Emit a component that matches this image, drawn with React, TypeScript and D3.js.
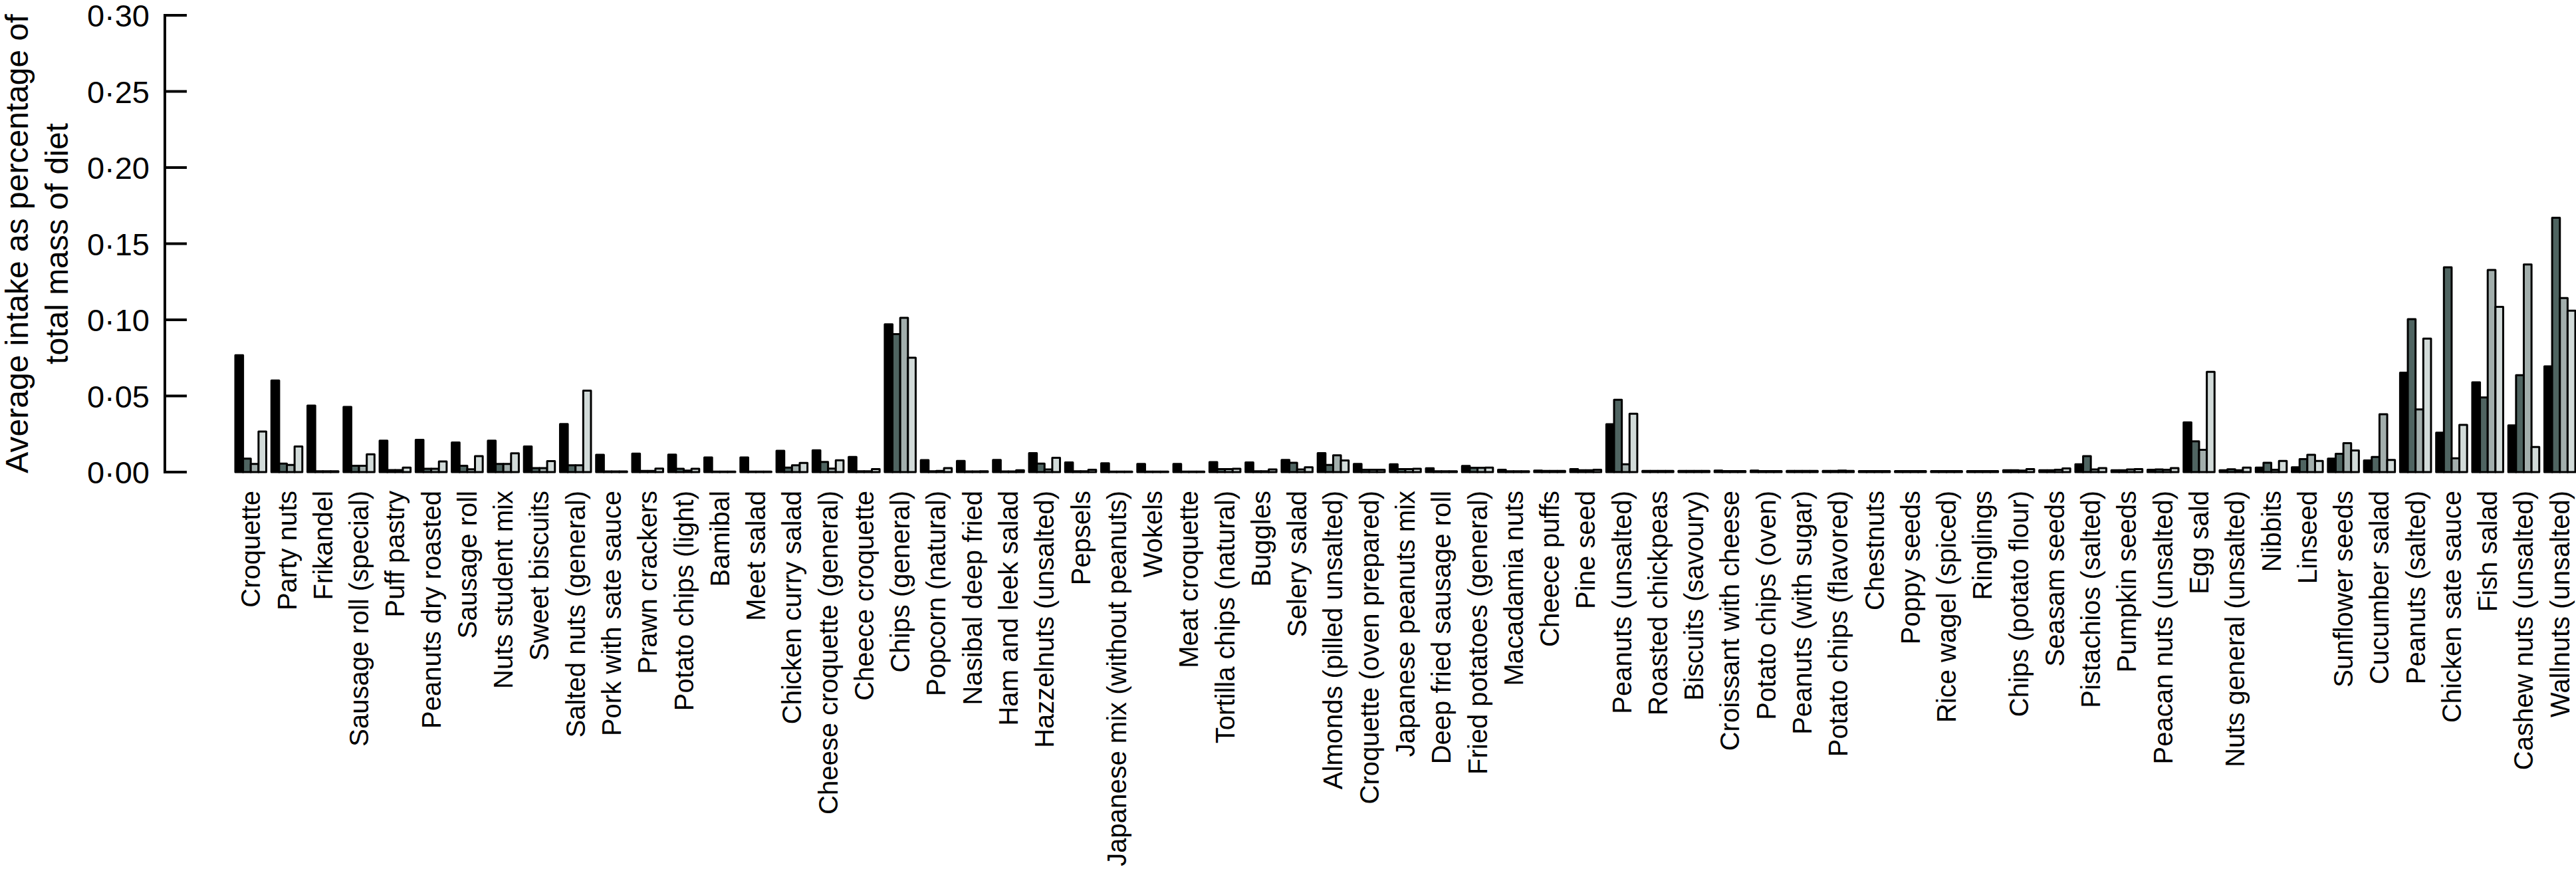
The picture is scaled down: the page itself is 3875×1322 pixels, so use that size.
import React from 'react';
import * as d3 from 'd3';

const categories = [
  'Croquette', 'Party nuts', 'Frikandel', 'Sausage roll (special)', 'Puff pastry',
  'Peanuts dry roasted', 'Sausage roll', 'Nuts student mix', 'Sweet biscuits', 'Salted nuts (general)',
  'Pork with sate sauce', 'Prawn crackers', 'Potato chips (light)', 'Bamibal', 'Meet salad',
  'Chicken curry salad', 'Cheese croquette (general)', 'Cheece croquette', 'Chips (general)', 'Popcorn (natural)',
  'Nasibal deep fried', 'Ham and leek salad', 'Hazzelnuts (unsalted)', 'Pepsels', 'Japanese mix (without peanuts)',
  'Wokels', 'Meat croquette', 'Tortilla chips (natural)', 'Buggles', 'Selery salad',
  'Almonds (pilled unsalted)', 'Croquette (oven prepared)', 'Japanese peanuts mix', 'Deep fried sausage roll', 'Fried potatoes (general)',
  'Macadamia nuts', 'Cheece puffs', 'Pine seed', 'Peanuts (unsalted)', 'Roasted chickpeas',
  'Biscuits (savoury)', 'Croissant with cheese', 'Potato chips (oven)', 'Peanuts (with sugar)', 'Potato chips (flavored)',
  'Chestnuts', 'Poppy seeds', 'Rice wagel (spiced)', 'Ringlings', 'Chips (potato flour)',
  'Seasam seeds', 'Pistachios (salted)', 'Pumpkin seeds', 'Peacan nuts (unsalted)', 'Egg sald',
  'Nuts general (unsalted)', 'Nibbits', 'Linseed', 'Sunflower seeds', 'Cucumber salad',
  'Peanuts (salted)', 'Chicken sate sauce', 'Fish salad', 'Cashew nuts (unsalted)', 'Wallnuts (unsalted)',
];

const seriesNames = ['Series 1', 'Series 2', 'Series 3', 'Series 4'];
const seriesColors = ['#000000', '#4f6461', '#a2aeac', '#d2dbd9'];

const series1 = [
  0.0767, 0.0602, 0.0437, 0.0428, 0.0206, 0.0212, 0.0194, 0.0206, 0.0168, 0.0316,
  0.0113, 0.0121, 0.0115, 0.0096, 0.0096, 0.0140, 0.0143, 0.0099, 0.0970, 0.0079,
  0.0073, 0.0080, 0.0124, 0.0063, 0.0058, 0.0054, 0.0054, 0.0066, 0.0063, 0.0080,
  0.0125, 0.0054, 0.0051, 0.0025, 0.0040, 0.0015, 0.0010, 0.0020, 0.0314, 0.0008,
  0.0008, 0.0010, 0.0010, 0.0008, 0.0008, 0.0007, 0.0007, 0.0007, 0.0007, 0.0012,
  0.0012, 0.0051, 0.0012, 0.0015, 0.0326, 0.0012, 0.0030, 0.0032, 0.0088, 0.0076,
  0.0653, 0.0259, 0.0589, 0.0307, 0.0694,
];
const series2 = [
  0.0088, 0.0056, 0.0005, 0.0041, 0.0013, 0.0022, 0.0041, 0.0054, 0.0026, 0.0045,
  0.0004, 0.0008, 0.0022, 0.0003, 0.0003, 0.0030, 0.0067, 0.0005, 0.0906, 0.0005,
  0.0004, 0.0004, 0.0056, 0.0005, 0.0003, 0.0003, 0.0003, 0.0020, 0.0005, 0.0061,
  0.0047, 0.0015, 0.0020, 0.0005, 0.0028, 0.0005, 0.0008, 0.0012, 0.0475, 0.0008,
  0.0008, 0.0007, 0.0007, 0.0008, 0.0008, 0.0007, 0.0007, 0.0007, 0.0007, 0.0012,
  0.0012, 0.0105, 0.0012, 0.0018, 0.0202, 0.0019, 0.0061, 0.0085, 0.0120, 0.0099,
  0.1004, 0.1345, 0.0490, 0.0636, 0.1670,
];
const series3 = [
  0.0053, 0.0047, 0.0005, 0.0041, 0.0013, 0.0022, 0.0019, 0.0054, 0.0026, 0.0045,
  0.0004, 0.0008, 0.0010, 0.0003, 0.0003, 0.0045, 0.0023, 0.0005, 0.1013, 0.0008,
  0.0004, 0.0004, 0.0018, 0.0005, 0.0003, 0.0003, 0.0003, 0.0020, 0.0005, 0.0018,
  0.0110, 0.0015, 0.0020, 0.0005, 0.0028, 0.0005, 0.0008, 0.0012, 0.0051, 0.0008,
  0.0008, 0.0007, 0.0007, 0.0008, 0.0010, 0.0007, 0.0007, 0.0007, 0.0007, 0.0010,
  0.0015, 0.0018, 0.0018, 0.0015, 0.0146, 0.0012, 0.0015, 0.0113, 0.0190, 0.0380,
  0.0412, 0.0091, 0.1327, 0.1363, 0.1143,
];
const series4 = [
  0.0266, 0.0168, 0.0005, 0.0117, 0.0029, 0.0070, 0.0105, 0.0123, 0.0072, 0.0535,
  0.0004, 0.0023, 0.0022, 0.0003, 0.0003, 0.0060, 0.0077, 0.0020, 0.0751, 0.0026,
  0.0006, 0.0012, 0.0094, 0.0015, 0.0003, 0.0003, 0.0003, 0.0022, 0.0018, 0.0032,
  0.0076, 0.0015, 0.0022, 0.0005, 0.0030, 0.0005, 0.0008, 0.0015, 0.0383, 0.0008,
  0.0008, 0.0007, 0.0007, 0.0008, 0.0008, 0.0007, 0.0007, 0.0007, 0.0007, 0.0020,
  0.0024, 0.0026, 0.0020, 0.0026, 0.0658, 0.0030, 0.0073, 0.0073, 0.0142, 0.0080,
  0.0877, 0.0310, 0.1085, 0.0165, 0.1060,
];

const yTicks = [0, 0.05, 0.1, 0.15, 0.2, 0.25, 0.3];
const yTickLabels = ['0·00', '0·05', '0·10', '0·15', '0·20', '0·25', '0·30'];
const yTitleLines = ['Average intake as percentage of', 'total mass of diet'];

const FONT = "'Liberation Sans', Arial, Helvetica, sans-serif";

export default function App() {
  const W = 3875;
  const H = 1322;
  const allSeries = [series1, series2, series3, series4];

  const x = d3.scaleBand<string>().domain(categories).range([354, 3874]).paddingInner(0.143).paddingOuter(0);
  const inner = d3.scaleBand<string>().domain(seriesNames).range([0, x.bandwidth()]).padding(0);
  const y = d3.scaleLinear().domain([0, 0.3]).range([710, 23]);

  const axisX = 248;

  return (
    <svg width={W} height={H} style={{ position: 'absolute', left: 0, top: 0, background: '#fff' }} fontFamily={FONT}>
      <rect x={0} y={0} width={W} height={H} fill="#fff" />
      {/* y title */}
      {yTitleLines.map((t, i) => (
        <text key={t} transform={`translate(${42 + i * 60},${(y(0) + y(0.3)) / 2}) rotate(-90)`} textAnchor="middle" fontSize={48} fill="#000">{t}</text>
      ))}
      {/* y axis */}
      <line x1={axisX} x2={axisX} y1={y(0.3)} y2={y(0)} stroke="#000" strokeWidth={4} strokeLinecap="square" />
      {yTicks.map((t, i) => (
        <g key={t}>
          <line x1={axisX} x2={axisX + 33} y1={y(t)} y2={y(t)} stroke="#000" strokeWidth={4} />
          <text x={225} y={y(t)} dy="0.37em" textAnchor="end" fontSize={47} fill="#000">{yTickLabels[i]}</text>
        </g>
      ))}
      {/* bars */}
      {categories.map((c, ci) => (
        <g key={c} transform={`translate(${x(c)},0)`}>
          {seriesNames.map((s, si) => {
            const v = allSeries[si][ci];
            return (
              <rect key={s} x={inner(s)} y={y(v)} width={inner.bandwidth()} height={y(0) - y(v)}
                fill={seriesColors[si]} stroke="#000" strokeWidth={3} strokeLinejoin="round" />
            );
          })}
        </g>
      ))}
      {/* category labels */}
      {categories.map((c) => (
        <text key={c} transform={`translate(${(x(c) as number) + x.bandwidth() / 2},738) rotate(-90)`} dy="0.35em" textAnchor="end" fontSize={40} fill="#000">{c}</text>
      ))}
    </svg>
  );
}
